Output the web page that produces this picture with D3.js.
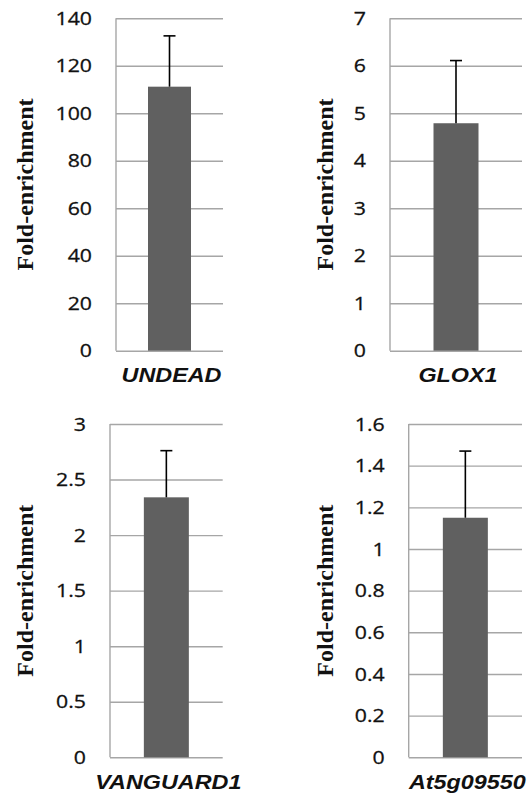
<!DOCTYPE html>
<html>
<head>
<meta charset="utf-8">
<script src="https://cdnjs.cloudflare.com/ajax/libs/d3/7.8.5/d3.min.js"></script>
<style>
	body { margin: 0; background: #fff; }
</style>
</head>
<body>
<svg id="chart" width="532" height="793"></svg>
<script>
// values
var genes = ["UNDEAD", "GLOX1", "VANGUARD1", "At5g09550"];
var foldEnrichment = [111.2, 4.79, 2.34, 1.15];
var errorUp = [21.4, 1.32, 0.42, 0.32];
var yMax = [140, 7, 3, 1.6];
var yStep = [20, 1, 0.5, 0.2];
var yTitle = "Fold-enrichment";

// plot frames, page px
var panels = [
	{x0: 116, x1: 223, y0: 18.3, y1: 350.7, labelY: 381.7, titleX: 33, barW: 43},
	{x0: 390, x1: 522, y0: 18.3, y1: 350.7, labelY: 381.7, titleX: 332.5, barW: 45},
	{x0: 110, x1: 222.7, y0: 424, y1: 757.3, labelY: 788.5, titleX: 33, barW: 45},
	{x0: 408.7, x1: 522, y0: 424, y1: 757.3, labelY: 788.5, titleX: 333, barW: 45}
];
var stretch = 1.12; // the source figure is a bit wide horizontally
var gridColour = "#a6a6a6",
	barColour = "#606060";

var svg = d3.select("#chart");

panels.forEach(function (p, i) {
	var g = svg.append("g");
	var W = p.x1 - p.x0;
	var pad = (W - p.barW) / (W + p.barW);

	var x = d3.scaleBand()
		.domain([genes[i]])
		.range([p.x0, p.x1])
		.padding(pad);

	var y = d3.scaleLinear()
		.domain([0, yMax[i]])
		.range([p.y1, p.y0]);

	var ticks = d3.range(0, yMax[i] + yStep[i] / 2, yStep[i]);

	// gridlines + tick labels
	var yAxis = d3.axisLeft(y)
		.tickValues(ticks)
		.tickSize(-W)
		.tickPadding(24)
		.tickFormat(d3.format("~g"));

	g.append("g")
		.attr("transform", `translate(${p.x0},0)`)
		.call(yAxis)
		.call(a => a.select(".domain").remove())
		.call(a => a.selectAll(".tick line")
			.attr("stroke", gridColour)
			.attr("stroke-width", 1.4))
		.call(a => a.selectAll(".tick text")
			.attr("fill", "#111")
			.attr("stroke", "#111")
			.attr("stroke-width", 0.3)
			.attr("font-family", "'Open Sans', sans-serif")
			.attr("font-size", 19)
			.attr("x", null)
			.attr("transform", `translate(-24,0) scale(${stretch},1)`));

	// vertical axis line
	g.append("line")
		.attr("x1", p.x0).attr("x2", p.x0)
		.attr("y1", y(yMax[i])).attr("y2", y(0))
		.attr("stroke", gridColour)
		.attr("stroke-width", 1.4);

	// bar
	g.append("rect")
		.attr("x", x(genes[i]))
		.attr("y", y(foldEnrichment[i]))
		.attr("width", x.bandwidth())
		.attr("height", y(0) - y(foldEnrichment[i]))
		.attr("fill", barColour);

	// upper error bar
	var cx = x(genes[i]) + x.bandwidth() / 2;
	g.append("line")
		.attr("x1", cx).attr("x2", cx)
		.attr("y1", y(foldEnrichment[i]))
		.attr("y2", y(foldEnrichment[i] + errorUp[i]))
		.attr("stroke", "#000")
		.attr("stroke-width", 1.6);
	g.append("line")
		.attr("x1", cx - 6).attr("x2", cx + 6)
		.attr("y1", y(foldEnrichment[i] + errorUp[i]))
		.attr("y2", y(foldEnrichment[i] + errorUp[i]))
		.attr("stroke", "#000")
		.attr("stroke-width", 1.6);

	// category label
	g.append("text")
		.attr("transform", `translate(${cx + 2},${p.labelY}) scale(1.14,1)`)
		.attr("text-anchor", "middle")
		.attr("font-family", "'Liberation Sans', Arial, sans-serif")
		.attr("font-weight", "bold")
		.attr("font-style", "italic")
		.attr("font-size", 20.5)
		.attr("fill", "#111")
		.text(genes[i]);

	// y title
	g.append("text")
		.attr("transform", `translate(${p.titleX},${(p.y0 + p.y1) / 2}) rotate(-90)`)
		.attr("text-anchor", "middle")
		.attr("font-family", "'Liberation Serif', 'Times New Roman', serif")
		.attr("font-weight", "bold")
		.attr("font-size", 24)
		.attr("fill", "#111")
		.text(yTitle);
});
</script>
</body>
</html>
